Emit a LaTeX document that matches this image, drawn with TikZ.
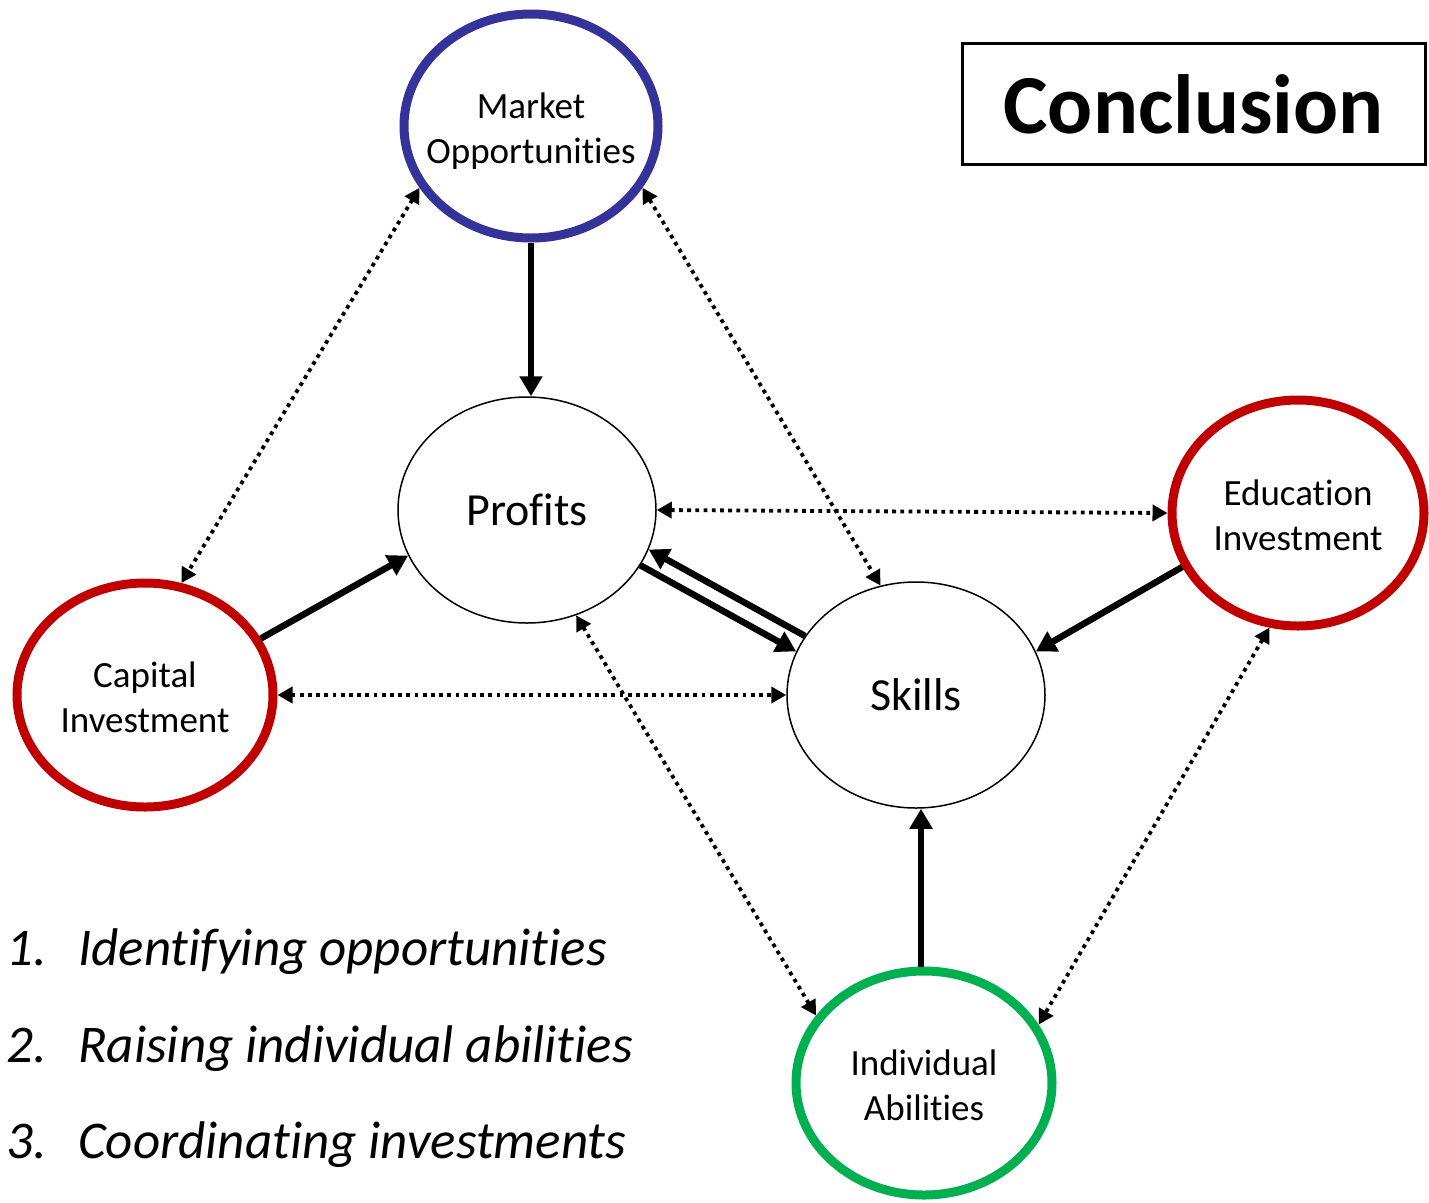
\documentclass[tikz,border=0pt]{standalone}
\usepackage{fontspec}
\setmainfont{Carlito}[Ligatures=NoCommon]
\usetikzlibrary{shapes.geometric,arrows.meta}
\definecolor{mblue}{HTML}{333399}
\definecolor{mred}{HTML}{C00000}
\definecolor{mgreen}{HTML}{00B050}
\newcommand{\ztwo}[2]{\makebox[0pt]{\raisebox{-6pt}[\height][\depth]{\begin{tabular}{@{}c@{}}#1\\#2\end{tabular}}}}
\tikzset{
  oval/.style={ellipse,draw,inner sep=0pt,align=center,font=\fontsize{37}{45}\selectfont},
  thinoval/.style={oval,line width=1.5pt,minimum width=258pt,minimum height=226pt,font=\fontsize{46}{50}\selectfont},
  thickoval/.style={oval,line width=9pt},
  solidarrow/.style={line width=6.5pt,-{Triangle[length=20pt,width=22pt]}},
  dotarrow/.style={line width=3.8pt,dash pattern=on 3.8pt off 4.4pt,{Triangle[length=15pt,width=16pt]}-{Triangle[length=15pt,width=16pt]}},
  listtxt/.style={anchor=base west,inner sep=0pt,font=\fontsize{53}{56}\selectfont\itshape}
}
\begin{document}
\begin{tikzpicture}[x=1pt,y=-1pt]
\path[use as bounding box,fill=white] (0,0) rectangle (1429,1202);

\node[thickoval,draw=mblue,minimum width=254pt,minimum height=224pt] (mkt) at (531,126) {\ztwo{Market}{Opportunities}};
\node[thinoval] (prof) at (527,510) {Profits};
\node[thinoval] (sk) at (916,695) {Skills};
\node[thickoval,draw=mred,minimum width=256pt,minimum height=224pt] (cap) at (145,695) {\ztwo{Capital}{Investment}};
\node[thickoval,draw=mred,minimum width=252pt,minimum height=226pt] (edu) at (1298,513) {\ztwo{Education}{Investment}};
\node[thickoval,draw=mgreen,minimum width=256pt,minimum height=224pt] (ind) at (924,1083) {\ztwo{Individual}{Abilities}};

\node[draw,line width=3pt,minimum width=463pt,minimum height=121pt,inner sep=0pt,font=\fontsize{84}{90}\selectfont\bfseries] (concl) at (1193.5,104) {Conclusion};

% solid arrows
\draw[solidarrow] (mkt.south) -- ([xshift=4pt]prof.north);
\draw[solidarrow] (cap.26) -- (prof.201);
\draw[solidarrow] (prof.334) -- (sk.160);
\draw[solidarrow] (sk.152) -- (prof.342);
\draw[solidarrow] (edu.205.6) -- (sk.20.7);
\draw[solidarrow] ([xshift=-3pt]ind.north) -- ([xshift=5pt]sk.south);

% dotted arrows
\draw[dotarrow] (mkt.209) -- (cap.72);
\draw[dotarrow] (mkt.331) -- (sk.108.7);
\draw[dotarrow] (prof.0) -- (edu.180);
\draw[dotarrow] (cap.0) -- (sk.180);
\draw[dotarrow] (prof.295) -- (ind.148.7);
\draw[dotarrow] (edu.256.8) -- (ind.27.7);

% list
\node[listtxt] (n1) at (6,965) {1.};
\node[listtxt] (t1) at (78,965) {Identifying opportunities};
\node[listtxt] (n2) at (6,1062) {2.};
\node[listtxt] (t2) at (78,1062) {Raising individual abilities};
\node[listtxt] (n3) at (6,1158) {3.};
\node[listtxt] (t3) at (78,1158) {Coordinating investments};
\end{tikzpicture}
\end{document}
